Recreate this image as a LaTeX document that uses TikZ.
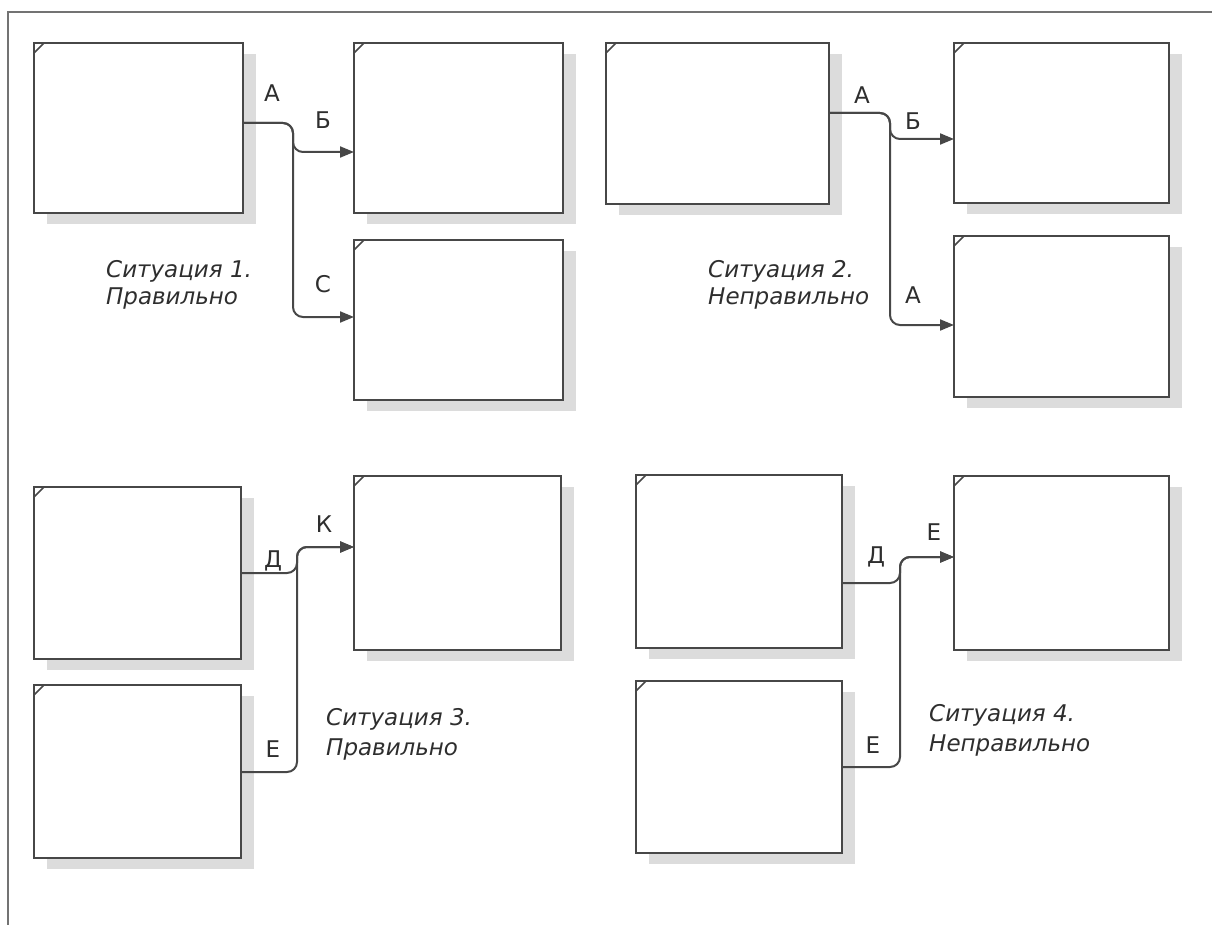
\documentclass[tikz,border=0pt]{standalone}
\usepackage{fontspec}
\setmainfont{DejaVu Sans}
\usetikzlibrary{arrows.meta,shadows}
\definecolor{inkgray}{HTML}{474747}
\definecolor{textgray}{HTML}{2E2E2E}
\definecolor{shadegray}{HTML}{DCDCDC}
\begin{document}
\begin{tikzpicture}[x=1pt,y=-1pt,
  blockbox/.style={draw=inkgray, line width=2.4pt, fill=white, inner sep=0pt, outer sep=0pt,
    drop shadow={shadow xshift=13pt, shadow yshift=-11pt, fill=shadegray, opacity=1},
    path picture={\draw[inkgray, line width=1.6pt]
      ([yshift=-10pt]path picture bounding box.north west) -- ++(10pt,10pt);}},
  conn/.style={draw=inkgray, line width=2pt, rounded corners=10pt},
  arr/.style={conn, -{Triangle[length=14pt,width=11pt]}},
  lbl/.style={text=textgray, inner sep=0pt, font=\fontsize{23}{27}\selectfont},
  capline/.style={text=textgray, inner sep=0pt, anchor=base west, font=\fontsize{23}{27}\selectfont\itshape},
  frameline/.style={draw=black!55, line width=2pt}
]
\useasboundingbox (0,0) rectangle (1212,925);
\path[frameline] (8,925) -- (8,12) -- (1212,12);

% --- Situation 1: one arrow splits into two differently named branches
\node[blockbox, minimum width=209pt, minimum height=170pt] (s1a) at (138.5,128) {};
\node[blockbox, minimum width=209pt, minimum height=170pt] (s1b) at (458.5,128) {};
\node[blockbox, minimum width=209pt, minimum height=160pt] (s1c) at (458.5,320) {};
\draw[arr] (s1a.east |- 0,123) -- (293,123) -- (293,152) -- (s1b.west |- 0,152);
\draw[arr] (s1a.east |- 0,123) -- (293,123) -- (293,317) -- (s1c.west |- 0,317);
\node[lbl] (s1la) at (272,93) {А};
\node[lbl] (s1lb) at (323,120) {Б};
\node[lbl] (s1lc) at (323,284) {С};
\node[capline] (s1c1) at (106,277) {Ситуация 1.};
\node[capline] (s1c2) at (106,305) {Правильно};

% --- Situation 2: a branch repeats the name of the whole arrow
\node[blockbox, minimum width=223pt, minimum height=161pt] (s2a) at (717.5,123.5) {};
\node[blockbox, minimum width=215pt, minimum height=160pt] (s2b) at (1061.5,123) {};
\node[blockbox, minimum width=215pt, minimum height=161pt] (s2c) at (1061.5,316.5) {};
\draw[arr] (s2a.east |- 0,113) -- (890,113) -- (890,139) -- (s2b.west |- 0,139);
\draw[arr] (s2a.east |- 0,113) -- (890,113) -- (890,325) -- (s2c.west |- 0,325);
\node[lbl] (s2la) at (862,95) {А};
\node[lbl] (s2lb) at (913,121) {Б};
\node[lbl] (s2lc) at (913,295) {А};
\node[capline] (s2c1) at (708,277) {Ситуация 2.};
\node[capline] (s2c2) at (708,305) {Неправильно};

% --- Situation 3: two arrows join into one with a new name
\node[blockbox, minimum width=207pt, minimum height=172pt] (s3a) at (137.5,573) {};
\node[blockbox, minimum width=207pt, minimum height=173pt] (s3b) at (137.5,771.5) {};
\node[blockbox, minimum width=207pt, minimum height=174pt] (s3c) at (457.5,563) {};
\draw[arr] (s3a.east |- 0,573) -- (297,573) -- (297,547) -- (s3c.west |- 0,547);
\draw[arr] (s3b.east |- 0,772) -- (297,772) -- (297,547) -- (s3c.west |- 0,547);
\node[lbl] (s3la) at (273,561) {Д};
\node[lbl] (s3lb) at (324,524) {К};
\node[lbl] (s3lc) at (273,749) {Е};
\node[capline] (s3c1) at (326,725) {Ситуация 3.};
\node[capline] (s3c2) at (326,755) {Правильно};

% --- Situation 4: the joined arrow keeps the name of one input
\node[blockbox, minimum width=206pt, minimum height=173pt] (s4a) at (739,561.5) {};
\node[blockbox, minimum width=206pt, minimum height=172pt] (s4b) at (739,767) {};
\node[blockbox, minimum width=215pt, minimum height=174pt] (s4c) at (1061.5,563) {};
\draw[arr] (s4a.east |- 0,583) -- (900,583) -- (900,557) -- (s4c.west |- 0,557);
\draw[arr] (s4b.east |- 0,767) -- (900,767) -- (900,557) -- (s4c.west |- 0,557);
\node[lbl] (s4la) at (876,557) {Д};
\node[lbl] (s4lb) at (934,532) {Е};
\node[lbl] (s4lc) at (873,745) {Е};
\node[capline] (s4c1) at (929,721) {Ситуация 4.};
\node[capline] (s4c2) at (929,751) {Неправильно};
\end{tikzpicture}
\end{document}
